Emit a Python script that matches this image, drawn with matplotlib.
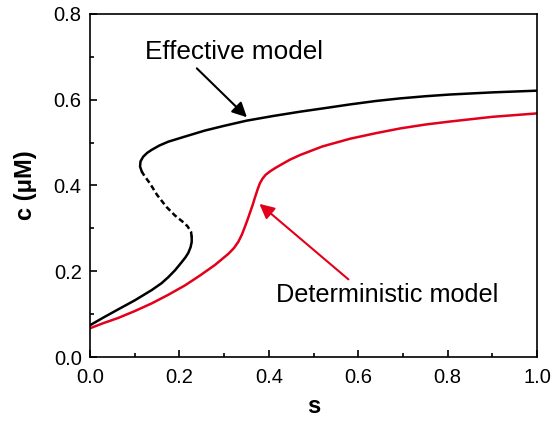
import matplotlib.pyplot as plt
from matplotlib.ticker import MultipleLocator

plt.rcParams['font.family'] = ['Liberation Sans', 'DejaVu Sans']

# Effective model: stable lower branch, unstable middle branch, stable upper branch
s_low = [0.0, 0.03, 0.063, 0.10, 0.138, 0.16, 0.175, 0.19, 0.205, 0.214, 0.22, 0.225, 0.2275, 0.2275]
c_low = [0.074, 0.092, 0.111, 0.132, 0.156, 0.172, 0.186, 0.202, 0.221, 0.233, 0.243, 0.256, 0.268, 0.280]

s_mid = [0.2275, 0.226, 0.218, 0.209, 0.19, 0.171, 0.15, 0.134, 0.122, 0.116]
c_mid = [0.280, 0.292, 0.305, 0.314, 0.330, 0.350, 0.378, 0.405, 0.422, 0.432]

s_up = [0.116, 0.112, 0.113, 0.119, 0.128, 0.138, 0.155, 0.175, 0.2125, 0.257, 0.30,
        0.35, 0.41, 0.47, 0.53, 0.582, 0.64, 0.694, 0.75, 0.805, 0.9, 1.0]
c_up = [0.432, 0.444, 0.456, 0.467, 0.476, 0.483, 0.493, 0.502, 0.514, 0.528, 0.539,
        0.551, 0.562, 0.572, 0.581, 0.589, 0.597, 0.603, 0.608, 0.612, 0.617, 0.621]

# Deterministic model
s_det = [0.0, 0.03, 0.063, 0.10, 0.138, 0.175, 0.2125, 0.246, 0.28, 0.31, 0.322, 0.332,
         0.340, 0.347, 0.353, 0.358, 0.364, 0.369, 0.375, 0.38, 0.386, 0.393, 0.403,
         0.415, 0.43, 0.447, 0.47, 0.52, 0.582, 0.64, 0.694, 0.75, 0.805, 0.9, 1.0]
c_det = [0.067, 0.079, 0.091, 0.107, 0.125, 0.145, 0.167, 0.190, 0.215, 0.241, 0.254, 0.269,
         0.286, 0.305, 0.322, 0.337, 0.355, 0.372, 0.391, 0.405, 0.416, 0.425, 0.433,
         0.441, 0.450, 0.460, 0.471, 0.491, 0.509, 0.522, 0.533, 0.542, 0.549, 0.560, 0.568]

# Label text positions and arrow start/end points
eff_text = (0.122, 0.712)
eff_tail, eff_tip = (0.239, 0.673), (0.351, 0.559)
det_text = (0.417, 0.145)
det_tail, det_tip = (0.578, 0.181), (0.379, 0.357)

RED = '#e2001a'

fig = plt.figure(figsize=(5.52, 4.21), dpi=100)
ax = fig.add_axes([0.163, 0.152, 0.81, 0.815])

ax.plot(s_low, c_low, color='black', lw=1.8, solid_joinstyle='round')
ax.plot(s_mid, c_mid, color='black', lw=1.8, dashes=(2.2, 1.3))
ax.plot(s_up, c_up, color='black', lw=1.8, solid_joinstyle='round')
ax.plot(s_det, c_det, color=RED, lw=1.8, solid_joinstyle='round')

ax.text(*eff_text, 'Effective model', fontsize=18.8, va='center', ha='left')
ax.annotate('', xy=eff_tip, xytext=eff_tail,
            arrowprops=dict(arrowstyle='-|>', color='black', lw=1.5,
                            mutation_scale=22, shrinkA=0, shrinkB=0))
ax.text(*det_text, 'Deterministic model', fontsize=18.2, va='center', ha='left')
ax.annotate('', xy=det_tip, xytext=det_tail,
            arrowprops=dict(arrowstyle='-|>', color=RED, lw=1.5,
                            mutation_scale=22, shrinkA=0, shrinkB=0))

ax.set_xlim(0, 1.0)
ax.set_ylim(0, 0.8)
ax.xaxis.set_major_locator(MultipleLocator(0.2))
ax.xaxis.set_minor_locator(MultipleLocator(0.1))
ax.yaxis.set_major_locator(MultipleLocator(0.2))
ax.yaxis.set_minor_locator(MultipleLocator(0.1))
ax.xaxis.set_major_formatter(plt.FormatStrFormatter('%.1f'))
ax.yaxis.set_major_formatter(plt.FormatStrFormatter('%.1f'))
ax.tick_params(which='both', direction='in', labelsize=14.5, width=1.2)
ax.tick_params(which='major', length=5)
ax.tick_params(which='minor', length=3)
ax.tick_params(axis='x', pad=8)
ax.tick_params(axis='y', pad=6)
for sp in ax.spines.values():
    sp.set_linewidth(1.2)

ax.set_xlabel('s', fontsize=17, fontweight='bold', labelpad=6)
ax.set_ylabel('c (\u03bcM)', fontsize=17, fontweight='bold', labelpad=12)

plt.savefig('out.png', dpi=100)
